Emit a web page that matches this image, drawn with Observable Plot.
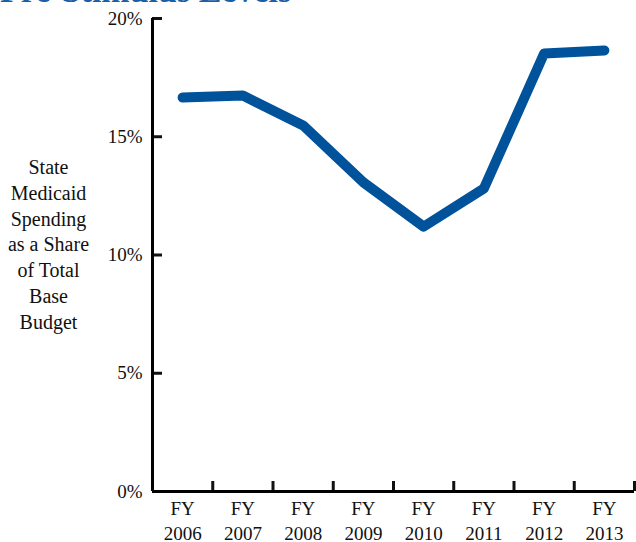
<!DOCTYPE html>
<html>
<head>
<meta charset="utf-8">
<script src="https://cdn.jsdelivr.net/npm/d3@7"></script>
<script src="https://cdn.jsdelivr.net/npm/@observablehq/plot@0.6"></script>
<style>
  html, body { margin: 0; padding: 0; background: #fff; overflow: hidden; }
  #wrap { position: relative; width: 636px; height: 542px; }
  #title { position: absolute; left: 0; top: -26px; font-family: "Liberation Serif", serif; font-weight: bold; font-size: 34px; line-height: 34px; color: #1b5fa8; white-space: nowrap; }
  #ylabel { position: absolute; left: 0; top: 155px; width: 97px; text-align: center; font-family: "Liberation Serif", serif; font-size: 20px; line-height: 25.8px; color: #111; }
</style>
</head>
<body>
<div id="wrap">
  <div id="title">Pre-Stimulus Levels</div>
  <div id="ylabel">State<br>Medicaid<br>Spending<br>as a Share<br>of Total<br>Base<br>Budget</div>
  <div id="chart"></div>
</div>
<script>
const years = ["2006", "2007", "2008", "2009", "2010", "2011", "2012", "2013"];
const shares = [16.66, 16.74, 15.48, 13.07, 11.2, 12.81, 18.52, 18.65];
const yTicks = [0, 5, 10, 15, 20];

const data = years.map((y, i) => ({i, year: y, share: shares[i]}));
const xMin = -0.5, xMax = years.length - 0.5;
const boundaries = d3.range(1, years.length + 1).map(k => k - 0.5);

const chart = Plot.plot({
  width: 636,
  height: 542,
  marginLeft: 152,
  marginRight: 2,
  marginTop: 18,
  marginBottom: 51,
  style: {fontFamily: "Liberation Serif, serif", fontSize: "19px", color: "#111", background: "#fff", overflow: "visible"},
  x: {type: "linear", domain: [xMin, xMax], axis: null},
  y: {domain: [0, 20], axis: null},
  marks: [
    Plot.axisY({ticks: yTicks, tickSize: -10, tickPadding: 20, strokeWidth: 3, tickFormat: d => d + "%", fontSize: 19, label: null}),
    Plot.axisX({ticks: boundaries, tickSize: -10, strokeWidth: 3, tickFormat: () => "", label: null}),
    Plot.axisX({ticks: d3.range(years.length), tickSize: 0, tickPadding: 6, tickFormat: k => "FY\n" + years[k], lineHeight: 1.3, fontSize: 19, label: null}),
    Plot.ruleX([xMin], {stroke: "#000", strokeWidth: 3}),
    Plot.ruleY([0], {stroke: "#000", strokeWidth: 3}),
    Plot.line(data, {x: "i", y: "share", stroke: "#00529b", strokeWidth: 10, strokeLinecap: "round", strokeLinejoin: "round"})
  ]
});
document.getElementById("chart").appendChild(chart);
</script>
</body>
</html>
